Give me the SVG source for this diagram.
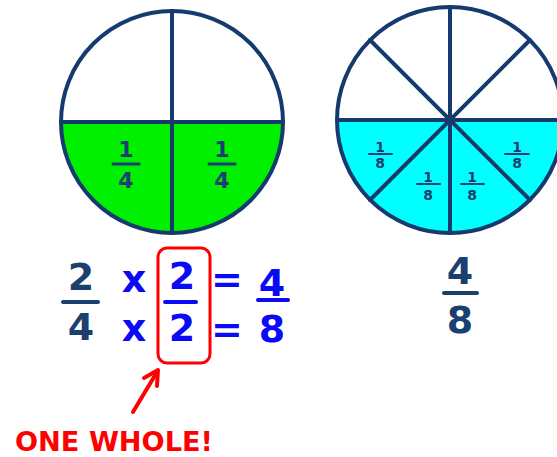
<svg xmlns="http://www.w3.org/2000/svg" width="557" height="457" viewBox="0 0 557 457">
<style>
.ring{fill:none;stroke:#143A6E;stroke-width:4}
.div{stroke:#143A6E;stroke-width:4;stroke-linecap:round}
.navy{fill:#1B3F6E}
.blue{fill:#0A0AF5}
.red{fill:#FF0000}
.t{font-family:"DejaVu Sans",sans-serif;font-weight:bold;text-anchor:middle}
.big{font-size:38px}
.mid{font-size:22px}
.sm{font-size:14px}
.bar{stroke-linecap:round}
.nb{stroke:#1B3F6E}
.bb{stroke:#0A0AF5}
</style>
<rect width="557" height="457" fill="#FFFFFF"/>
<g id="circle-quarters">
<path d="M61,122 A111,111 0 0 0 283,122 Z" fill="#00F000"/>
<circle cx="172" cy="122" r="111" class="ring"/>
<line x1="61" y1="122" x2="283" y2="122" class="div"/>
<line x1="172" y1="11" x2="172" y2="233" class="div"/>
<text x="126" y="157" class="t mid navy">1</text>
<line x1="113" y1="164" x2="139" y2="164" class="bar nb" stroke-width="3"/>
<text x="126" y="188" class="t mid navy">4</text>
<text x="222" y="157" class="t mid navy">1</text>
<line x1="209" y1="164" x2="235" y2="164" class="bar nb" stroke-width="3"/>
<text x="222" y="188" class="t mid navy">4</text>
</g>
<g id="circle-eighths">
<path d="M337,120 A113,113 0 0 0 563,120 Z" fill="#00FFFF"/>
<circle cx="450" cy="120" r="113" class="ring"/>
<line x1="337" y1="120" x2="563" y2="120" class="div"/>
<line x1="450" y1="7" x2="450" y2="233" class="div"/>
<line x1="370" y1="40" x2="530" y2="200" class="div"/>
<line x1="530" y1="40" x2="370" y2="200" class="div"/>
<circle cx="450" cy="120" r="4" fill="#143A6E"/>
<text x="380" y="152" class="t sm navy">1</text>
<line x1="369" y1="154" x2="392" y2="154" class="bar nb" stroke-width="2"/>
<text x="380" y="168" class="t sm navy">8</text>
<text x="428" y="182" class="t sm navy">1</text>
<line x1="417" y1="184" x2="440" y2="184" class="bar nb" stroke-width="2"/>
<text x="428" y="200" class="t sm navy">8</text>
<text x="472" y="182" class="t sm navy">1</text>
<line x1="461" y1="184" x2="484" y2="184" class="bar nb" stroke-width="2"/>
<text x="472" y="200" class="t sm navy">8</text>
<text x="517" y="152" class="t sm navy">1</text>
<line x1="505" y1="154" x2="529" y2="154" class="bar nb" stroke-width="2"/>
<text x="517" y="168" class="t sm navy">8</text>
</g>
<g id="equation">
<text x="81" y="290" class="t big navy">2</text>
<line x1="63" y1="302" x2="98" y2="302" class="bar nb" stroke-width="4"/>
<text x="81" y="340" class="t big navy">4</text>
<text x="134" y="292" class="t big blue">x</text>
<text x="134" y="341" class="t big blue">x</text>
<text x="182" y="289" class="t big blue">2</text>
<line x1="165" y1="302" x2="196" y2="302" class="bar bb" stroke-width="4"/>
<text x="182" y="341" class="t big blue">2</text>
<text x="227" y="292" class="t big blue">=</text>
<text x="227" y="342" class="t big blue">=</text>
<text x="272" y="296" class="t big blue">4</text>
<line x1="258" y1="300" x2="288" y2="300" class="bar bb" stroke-width="4"/>
<text x="272" y="342" class="t big blue">8</text>
</g>
<g id="result">
<text x="460" y="284" class="t big navy">4</text>
<line x1="444" y1="293" x2="477" y2="293" class="bar nb" stroke-width="4"/>
<text x="460" y="333" class="t big navy">8</text>
</g>
<g id="one-box">
<rect x="158" y="248" width="52" height="115" rx="9" fill="none" stroke="#FF0000" stroke-width="3"/>
</g>
<g id="connectors">
<line x1="133" y1="412" x2="157" y2="372" stroke="#FF0000" stroke-width="4" stroke-linecap="round"/>
<polyline points="144,378 158,370 157,386" fill="none" stroke="#FF0000" stroke-width="4" stroke-linecap="round" stroke-linejoin="round"/>
</g>
<g id="label">
<text x="114" y="451" class="t red" font-size="27" textLength="198" lengthAdjust="spacingAndGlyphs">ONE WHOLE!</text>
</g>
</svg>
